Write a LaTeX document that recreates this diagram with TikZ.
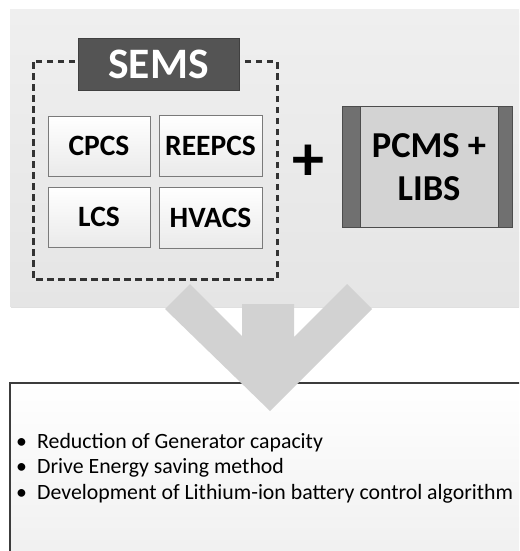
\documentclass[tikz,border=0pt]{standalone}
\usepackage{fontspec}
\setmainfont{Carlito}
\definecolor{panelTop}{HTML}{EFEFEF}
\definecolor{panelBot}{HTML}{E5E5E5}
\definecolor{semsFill}{HTML}{545454}
\definecolor{boxLine}{HTML}{7A7A7A}
\definecolor{boxBot}{HTML}{EAEAEA}
\definecolor{pcmsFill}{HTML}{D3D3D3}
\definecolor{bandFill}{HTML}{707070}
\definecolor{arrowFill}{HTML}{D2D2D2}
\definecolor{dashCol}{HTML}{333333}
\definecolor{frameCol}{HTML}{3C3C3C}
\tikzset{
  subbox/.style={draw=boxLine, line width=1pt, top color=white, bottom color=boxBot,
    font=\fontsize{29.5}{32}\selectfont\bfseries, text=black, inner sep=0pt},
  bullettext/.style={anchor=base west, font=\fontsize{21.8}{24}\selectfont, text=black, inner sep=0pt}
}
\begin{document}
\begin{tikzpicture}[x=1pt,y=-1pt]
\useasboundingbox (0,0) rectangle (519,551);
\clip (0,0) rectangle (519,551);
\fill[white] (0,0) rectangle (519,551);
% panel
\fill[black!12] (11,13) rectangle (530,308);
\shade[top color=panelTop, bottom color=panelBot] (10,10) rectangle (530,306);
% dashed SEMS frame
\draw[dashCol, line width=3pt, dash pattern=on 6.5pt off 4.5pt] (33,62) rectangle (277,279);
\node[fill=semsFill, draw=black!75, line width=0.8pt, minimum width=161pt, minimum height=52pt,
  inner sep=0pt, text=white, font=\fontsize{43.5}{46}\selectfont\bfseries] (sems) at (158.5,64) {SEMS};
% sub boxes
\node[subbox, minimum width=102pt, minimum height=60pt] (cpcs) at (99,146) {CPCS};
\node[subbox, minimum width=103pt, minimum height=61pt] (reepcs) at (210.5,145.5) {REEPCS};
\node[subbox, minimum width=102pt, minimum height=60pt] (lcs) at (99,217) {LCS};
\node[subbox, minimum width=103pt, minimum height=61pt] (hvacs) at (210.5,217.5) {HVACS};
% plus
\node[font=\fontsize{64}{70}\selectfont\bfseries, text=black, inner sep=0pt] (plus) at (308,163) {+};
% PCMS box
\node[fill=pcmsFill, minimum width=169pt, minimum height=120pt, inner sep=0pt] (pcms) at (427.5,167) {};
\fill[bandFill] (pcms.north west) rectangle ([xshift=18pt]pcms.south west);
\fill[bandFill] ([xshift=-14pt]pcms.north east) rectangle (pcms.south east);
\draw[black!70, line width=0.8pt] ([xshift=18pt]pcms.north west) -- ([xshift=18pt]pcms.south west);
\draw[black!70, line width=0.8pt] ([xshift=-14pt]pcms.north east) -- ([xshift=-14pt]pcms.south east);
\draw[black!70, line width=0.8pt] (pcms.north west) rectangle (pcms.south east);
\node[align=center, font=\fontsize{36.5}{43}\selectfont\bfseries, text=black, inner sep=0pt] (pcmslabel)
  at (429,167) {PCMS +\\LIBS};
% bottom box
\shade[top color=white, bottom color=black!6] (10,383) rectangle (530,560);
\draw[frameCol, line width=2.2pt] (530,383) -- (10,383) -- (10,560);
% chevron arrow
\fill[arrowFill] (165,309) -- (190,284) -- (242,336) -- (242,304) -- (294,304) -- (294,337)
  -- (347,284) -- (372,309) -- (270,411) -- cycle;
% bullets
\node[bullettext] (b1) at (16,448) {\makebox[21pt][l]{\textbullet}Reduction of Generator capacity};
\node[bullettext] (b2) at (16,473.5) {\makebox[21pt][l]{\textbullet}Drive Energy saving method};
\node[bullettext] (b3) at (16,499) {\makebox[21pt][l]{\textbullet}Development of Lithium-ion battery control algorithm};
\end{tikzpicture}
\end{document}
